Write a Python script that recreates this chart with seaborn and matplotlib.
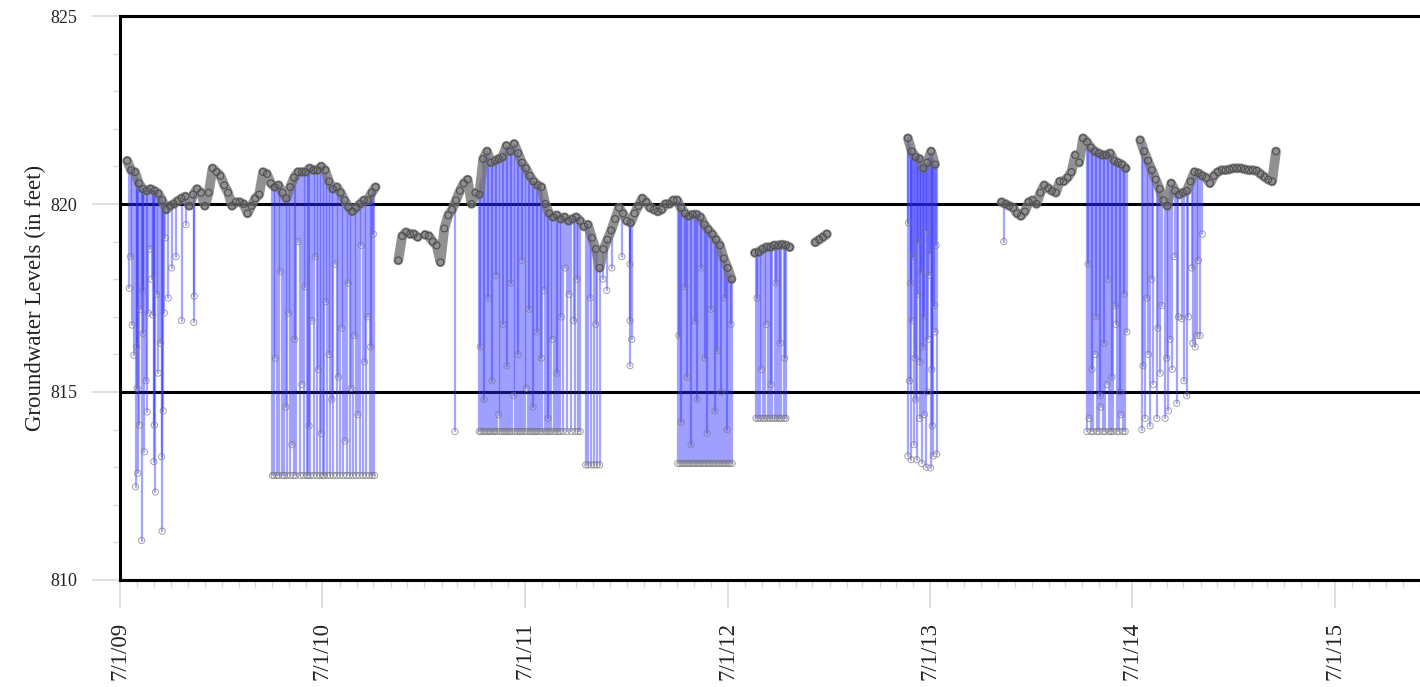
import numpy as np
import pandas as pd
import matplotlib
matplotlib.use("Agg")
import matplotlib.pyplot as plt
import matplotlib.dates as mdates
from matplotlib.ticker import MultipleLocator
import seaborn as sns

# ---------------------------------------------------------------------------
# Logged water level (ft), one reading per week, for each unbroken stretch
# ---------------------------------------------------------------------------
seg2009_start = "2009-07-14"
seg2009_levels = [
    821.15, 820.9, 820.85, 820.55, 820.4, 820.35, 820.4, 820.35, 820.28, 820.1,
    819.85, 819.95, 820.0, 820.08, 820.15, 820.2, 819.95, 820.25, 820.4, 820.3,
    819.95, 820.3, 820.95, 820.85, 820.75, 820.5, 820.3, 819.95, 820.05, 820.05,
    820.0, 819.75, 819.95, 820.15, 820.25, 820.85, 820.8, 820.55, 820.45, 820.5,
    820.3, 820.15, 820.45, 820.7, 820.85, 820.85, 820.85, 820.95, 820.9, 820.9,
    821.0, 820.9, 820.6, 820.4, 820.45, 820.3, 820.1, 819.92, 819.8, 819.9,
    820.0, 820.1, 820.1, 820.3, 820.45,
]
seg2010_start = "2010-11-15"
seg2010_levels = [818.5, 819.15, 819.25, 819.2, 819.2, 819.12]

seg2011_start = "2011-01-02"
seg2011_levels = [
    819.18, 819.15, 819.0, 818.9, 818.45, 819.35, 819.7, 819.85, 820.1, 820.35,
    820.55, 820.65, 820.0, 820.3, 820.25, 821.2, 821.4, 821.1, 821.15, 821.2,
    821.25, 821.55, 821.4, 821.6, 821.35, 821.1, 820.95, 820.75, 820.6, 820.5,
    820.45, 820.0, 819.75, 819.65, 819.7, 819.6, 819.65, 819.55, 819.6, 819.65,
    819.55, 819.4, 819.45, 819.1, 818.8, 818.3, 818.8, 819.05, 819.3, 819.6,
    819.9, 819.75, 819.55, 819.5, 819.75, 819.95, 820.15, 820.05, 819.9, 819.85,
    819.8, 819.85, 820.0, 820.0, 820.1, 820.1, 819.9, 819.75, 819.68, 819.72,
    819.72, 819.65, 819.45, 819.32, 819.2, 819.05, 818.9, 818.55, 818.3, 818.0,
]
seg2012a_start = "2012-08-19"
seg2012a_levels = [818.7, 818.72, 818.8, 818.85, 818.85, 818.9, 818.9, 818.92, 818.9, 818.85]

seg2012b_start = "2012-12-06"
seg2012b_levels = [818.98, 819.05, 819.12, 819.2]

seg2013a_start = "2013-05-22"
seg2013a_levels = [821.75, 821.4, 821.25, 821.2, 820.95, 821.1, 821.4, 821.05]

seg2013b_start = "2013-11-07"
seg2013b_levels = [
    820.05, 820.0, 819.95, 819.9, 819.75, 819.68, 819.8, 820.05, 820.1, 820.0,
    820.3, 820.5, 820.42, 820.35, 820.3, 820.6, 820.6, 820.7, 820.85, 821.3,
    821.1, 821.75, 821.65, 821.5, 821.4, 821.35, 821.3, 821.3, 821.35, 821.15,
    821.1, 821.05, 820.95,
]
seg2014_start = "2014-07-15"
seg2014_levels = [
    821.7, 821.4, 821.15, 820.9, 820.65, 820.4, 820.1, 819.95, 820.55, 820.35,
    820.25, 820.3, 820.35, 820.6, 820.85, 820.82, 820.75, 820.7, 820.55, 820.75,
    820.85, 820.9, 820.9, 820.92, 820.95, 820.95, 820.95, 820.92, 820.9, 820.9,
    820.88, 820.8, 820.72, 820.65, 820.6, 821.4,
]

# ---------------------------------------------------------------------------
# Pumping drawdowns: day of reading (days since 2009-07-01) and level reached
# ---------------------------------------------------------------------------
record_origin = "2009-07-01"

pump2009_days = [17, 19, 22, 25, 28, 30, 31, 32, 35, 37, 39, 41, 42, 44, 47, 49, 51, 54, 57, 59,
                 61, 62, 64, 66, 69, 73, 75, 76, 78, 80, 82, 87, 93, 101, 111, 119, 133, 134]
pump2009_levels = [817.76, 818.6, 816.78, 815.98, 812.48, 816.2, 815.1, 812.84, 814.12, 817.2,
                   811.05, 817.7, 816.56, 813.41, 815.3, 814.47, 817.1, 818.8, 818.0, 817.05,
                   813.15, 814.12, 812.34, 817.6, 815.5, 816.3, 813.28, 811.3, 814.5, 817.1,
                   819.1, 817.5, 818.3, 818.6, 816.9, 819.45, 816.85, 817.55]

# days on which the level bottomed out at the transducer floor
floor2010_level = 812.78
floor2010_days = [275, 278, 283, 286, 293, 296, 301, 307, 313, 317, 325, 331, 337, 339, 343, 349,
                  355, 361, 366, 368, 374, 379, 385, 391, 397, 403, 409, 414, 420, 426, 432, 438,
                  444, 450, 455, 459]
pump2010_days = [280, 289, 299, 304, 310, 315, 321, 328, 334, 341, 346, 352, 358, 363, 371, 377,
                 382, 388, 394, 400, 406, 412, 417, 423, 429, 435, 441, 447, 452, 457]
pump2010_levels = [815.9, 818.2, 814.6, 817.1, 813.6, 816.4, 819.0, 815.2, 817.8, 814.1, 816.9,
                   818.6, 815.6, 813.9, 817.4, 816.0, 814.8, 818.4, 815.4, 816.7, 813.7, 817.9,
                   815.1, 816.5, 814.4, 818.9, 815.8, 817.0, 816.2, 819.2]

single_days = [604, 1594]
single_levels = [813.95, 819.0]

floor2011_level = 813.95
floor2011_days = [648, 651, 655, 658, 662, 666, 669, 673, 676, 680, 685, 689, 693, 696, 700, 703,
                  707, 712, 716, 720, 723, 727, 731, 735, 740, 743, 747, 750, 754, 758, 762, 767,
                  770, 774, 777, 782, 786, 790, 794, 799, 806, 814, 821, 826, 830]
pump2011_days = [650, 657, 664, 671, 678, 683, 691, 698, 705, 710, 718, 725, 733, 738, 745, 752,
                 760, 765, 772, 780, 788, 796, 803, 810, 818, 824,
                 848, 858, 871, 878, 887, 905, 920, 920, 920, 923]
pump2011_levels = [816.2, 814.8, 817.5, 815.3, 818.1, 814.4, 816.8, 815.7, 817.9, 814.9, 816.0,
                   818.5, 815.1, 817.2, 814.6, 816.6, 815.9, 817.7, 814.3, 816.4, 815.5, 817.0,
                   818.3, 817.6, 816.9, 818.0,
                   817.5, 816.8, 818.0, 817.7, 818.3, 818.6, 815.7, 816.9, 818.4, 816.4]

floor2011b_level = 813.06
floor2011b_days = [840, 844, 850, 855, 860, 865]

floor2012a_level = 813.1
floor2012a_days = [1006, 1010, 1014, 1017, 1021, 1025, 1028, 1032, 1035, 1039, 1043, 1046, 1050,
                   1053, 1057, 1061, 1064, 1068, 1071, 1075, 1079, 1082, 1086, 1089, 1093, 1097,
                   1100, 1104]
pump2012a_days = [1008, 1012, 1019, 1023, 1030, 1037, 1041, 1048, 1055, 1059, 1066, 1073, 1077,
                  1084, 1091, 1095, 1102]
pump2012a_levels = [816.5, 814.2, 817.8, 815.4, 813.6, 816.9, 814.8, 818.3, 815.9, 813.9, 817.2,
                    814.5, 816.1, 815.0, 817.5, 814.0, 816.8]

floor2012b_level = 814.3
floor2012b_days = [1147, 1151, 1155, 1160, 1163, 1168, 1172, 1176, 1181, 1185, 1189, 1193, 1198, 1201]
pump2012b_days = [1149, 1157, 1166, 1174, 1183, 1191, 1199]
pump2012b_levels = [817.5, 815.6, 816.8, 815.2, 817.9, 816.3, 815.9]

pump2013_days = [1421, 1424, 1427, 1429, 1432, 1435, 1437, 1440, 1443, 1446, 1448, 1451, 1454,
                 1456, 1459, 1462, 1465, 1467, 1470, 1473,
                 1422, 1426, 1431, 1434, 1439, 1442, 1445, 1450, 1453, 1458, 1461, 1464, 1469, 1472]
pump2013_levels = [813.3, 815.3, 813.2, 816.9, 813.6, 814.8, 813.2, 817.6, 815.8, 813.1, 816.2,
                   814.4, 813.0, 815.0, 818.1, 812.98, 814.1, 813.3, 816.6, 813.35,
                   819.5, 817.9, 818.6, 815.9, 819.0, 814.3, 818.2, 817.0, 819.3, 816.4, 818.7,
                   815.6, 817.3, 818.9]

floor2014_level = 813.95
floor2014_days = [1744, 1751, 1755, 1762, 1766, 1773, 1777, 1784, 1787, 1791, 1798, 1802, 1809, 1813]
pump2014a_days = [1748, 1759, 1769, 1780, 1795, 1805, 1816, 1746, 1753, 1760, 1768, 1775, 1782,
                  1789, 1796, 1804, 1811]
pump2014a_levels = [814.3, 816.0, 814.6, 815.2, 817.3, 814.4, 816.6, 818.4, 815.6, 817.0, 814.9,
                    816.3, 818.0, 815.4, 816.8, 815.0, 817.6]

pump2014b_days = [1843, 1845, 1849, 1852, 1855, 1858, 1861, 1864, 1870, 1872, 1876, 1879, 1885,
                  1888, 1891, 1894, 1898, 1902, 1906, 1909, 1915, 1919, 1924, 1927, 1933, 1935,
                  1939, 1942, 1945, 1948, 1952]
pump2014b_levels = [814.0, 815.7, 814.3, 817.5, 816.0, 814.1, 818.0, 815.2, 814.3, 816.7, 815.5,
                    817.3, 814.3, 815.9, 814.5, 816.4, 815.6, 818.6, 814.7, 817.0, 816.95, 815.3,
                    814.9, 817.0, 818.3, 816.3, 816.2, 816.5, 818.5, 816.5, 819.2]

year_labels = ["7/1/09", "7/1/10", "7/1/11", "7/1/12", "7/1/13", "7/1/14", "7/1/15"]

# ---------------------------------------------------------------------------
# Assemble the tables
# ---------------------------------------------------------------------------
segments = [
    (seg2009_start, seg2009_levels), (seg2010_start, seg2010_levels),
    (seg2011_start, seg2011_levels), (seg2012a_start, seg2012a_levels),
    (seg2012b_start, seg2012b_levels), (seg2013a_start, seg2013a_levels),
    (seg2013b_start, seg2013b_levels), (seg2014_start, seg2014_levels),
]
frames = []
for i, (start, levels) in enumerate(segments):
    frames.append(pd.DataFrame({
        "date": pd.date_range(start, periods=len(levels), freq="7D"),
        "level": levels,
        "segment": i,
    }))
base = pd.concat(frames, ignore_index=True)

readings = [
    (pump2009_days, pump2009_levels),
    (floor2010_days, [floor2010_level] * len(floor2010_days)),
    (pump2010_days, pump2010_levels),
    (single_days, single_levels),
    (floor2011_days, [floor2011_level] * len(floor2011_days)),
    (pump2011_days, pump2011_levels),
    (floor2011b_days, [floor2011b_level] * len(floor2011b_days)),
    (floor2012a_days, [floor2012a_level] * len(floor2012a_days)),
    (pump2012a_days, pump2012a_levels),
    (floor2012b_days, [floor2012b_level] * len(floor2012b_days)),
    (pump2012b_days, pump2012b_levels),
    (pump2013_days, pump2013_levels),
    (floor2014_days, [floor2014_level] * len(floor2014_days)),
    (pump2014a_days, pump2014a_levels),
    (pump2014b_days, pump2014b_levels),
]
pump_days = np.concatenate([np.asarray(d, float) for d, _ in readings])
pump_levels = np.concatenate([np.asarray(v, float) for _, v in readings])
pump_dates = pd.Timestamp(record_origin) + pd.to_timedelta(pump_days, unit="D")
pumps = pd.DataFrame({"date": pump_dates, "level": pump_levels})

# each drawdown is drawn as a drop from the static level to the reading
static_at_pump = np.interp(mdates.date2num(pump_dates),
                           mdates.date2num(base["date"]), base["level"])
n = len(pumps)
drops = pd.DataFrame({
    "date": np.repeat(pump_dates.values, 2),
    "level": np.column_stack([static_at_pump, pump_levels]).ravel(),
    "event": np.repeat(np.arange(n), 2),
})

# ---------------------------------------------------------------------------
# Figure
# ---------------------------------------------------------------------------
sns.set_style("white")
plt.rcParams["font.family"] = ["Liberation Serif", "DejaVu Serif"]

fig = plt.figure(figsize=(14.2, 6.87), dpi=100)
ax = fig.add_axes([0.08451, 0.15575, 0.92732, 0.82096])

sns.lineplot(data=drops, x="date", y="level", units="event", estimator=None,
             color="#2a2aff", alpha=0.42, linewidth=1.6, legend=False, ax=ax, zorder=2)
sns.lineplot(data=base, x="date", y="level", units="segment", estimator=None,
             color="#767676", alpha=0.8, linewidth=7, legend=False, ax=ax, zorder=3)
sns.scatterplot(data=pumps, x="date", y="level", marker="o", s=20,
                edgecolor="#7a7a7a", linewidth=0.7, alpha=0.7,
                legend=False, ax=ax, zorder=4)
sns.scatterplot(data=base, x="date", y="level", marker="o", s=24,
                edgecolor="#4e4e4e", linewidth=0.8,
                legend=False, ax=ax, zorder=5)
for coll in ax.collections:
    coll.set_facecolor("none")

ax.set_ylim(810, 825)
ax.set_xlim(pd.Timestamp("2009-07-01"), pd.Timestamp("2016-01-01"))

ax.yaxis.set_major_locator(MultipleLocator(5))
ax.yaxis.set_minor_locator(MultipleLocator(1))
ax.xaxis.set_major_locator(mdates.MonthLocator(bymonth=7, bymonthday=1))
ax.xaxis.set_minor_locator(mdates.MonthLocator())
ax.set_xticks(ax.get_xticks())
ax.set_xticklabels(year_labels)

ax.grid(False)
ax.yaxis.grid(True, which="major", color="black", linewidth=2.2)
ax.set_axisbelow(True)

ax.tick_params(which="both", bottom=True, left=True, direction="out", colors="#d9d9d9",
               labelcolor="#222222")
ax.tick_params(which="major", length=20, width=1.2)
ax.tick_params(which="minor", length=5, width=1.0)
ax.tick_params(axis="x", which="major", labelsize=16.5, pad=10, labelrotation=90)
ax.tick_params(axis="y", which="major", labelsize=13, pad=11)

for side in ["left", "top", "bottom", "right"]:
    ax.spines[side].set_visible(True)
    ax.spines[side].set_color("black")
    ax.spines[side].set_linewidth(2.2)

ax.set_xlabel("")
ax.set_ylabel("Groundwater Levels (in feet)", fontsize=16.5, color="#222222", labelpad=3)

fig.savefig("out.png", dpi=100)
